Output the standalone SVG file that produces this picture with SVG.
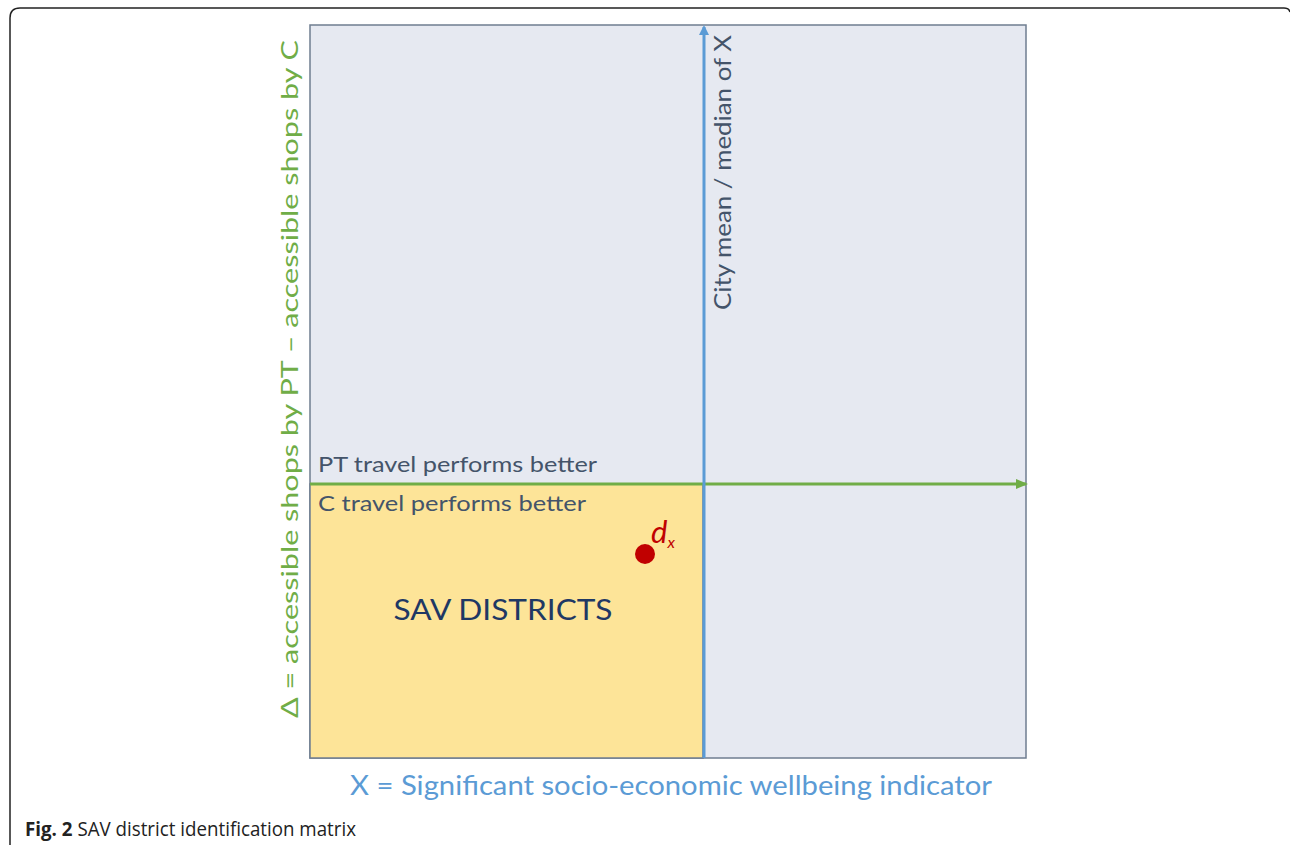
<svg xmlns="http://www.w3.org/2000/svg" width="1290" height="845" viewBox="0 0 1290 845">
  <style>
    .lbl { font-family: Lato, "Open Sans", sans-serif; }
    .slate { fill: #44546a; }
    .cap { font-family: "Open Sans", "Noto Sans", sans-serif; font-size: 20px; fill: #222; }
  </style>
  <defs>
    <marker id="arrBlue" markerWidth="10" markerHeight="10" refX="8" refY="5" orient="auto" markerUnits="userSpaceOnUse" viewBox="0 0 10 10">
      <path d="M0,0 L10,5 L0,10 z" fill="#5b9bd5"/>
    </marker>
    <marker id="arrGreen" markerWidth="12" markerHeight="10" refX="10" refY="5" orient="auto" markerUnits="userSpaceOnUse" viewBox="0 0 12 10">
      <path d="M0,0 L12,5 L0,10 z" fill="#70ad47"/>
    </marker>
  </defs>
  <rect width="1290" height="845" fill="#ffffff"/>

  <!-- figure frame -->
  <path d="M10,845 L10,18 Q10,8 20,8 L1284,8 Q1289,8 1290,12" fill="none" stroke="#222" stroke-width="1.5"/>

  <!-- matrix quadrants -->
  <g id="matrix">
    <rect x="310" y="25" width="716" height="733" fill="#e6e9f1" stroke="#6f7d90" stroke-width="1.5"/>
  </g>
  <g id="sav-districts">
    <rect x="310" y="484" width="393" height="274" fill="#fde498" stroke="#6f7d90" stroke-width="1.5"/>
    <text class="lbl" x="503" y="620" font-size="28" fill="#1f3864" text-anchor="middle" textLength="219" lengthAdjust="spacingAndGlyphs">SAV DISTRICTS</text>
  </g>

  <!-- axes -->
  <g id="connectors">
    <line x1="310" y1="484" x2="1026" y2="484" stroke="#70ad47" stroke-width="3" marker-end="url(#arrGreen)"/>
    <line x1="704" y1="758" x2="704" y2="27" stroke="#5b9bd5" stroke-width="3" marker-end="url(#arrBlue)"/>
  </g>

  <g id="median-label">
    <text class="lbl slate" transform="translate(731,310) rotate(-90)" font-size="24" textLength="275" lengthAdjust="spacingAndGlyphs">City mean / median of X</text>
  </g>
  <g id="pt-label">
    <text class="lbl slate" x="318" y="472" font-size="22" textLength="279" lengthAdjust="spacingAndGlyphs">PT travel performs better</text>
  </g>
  <g id="c-label">
    <text class="lbl slate" x="318" y="511" font-size="22" textLength="268" lengthAdjust="spacingAndGlyphs">C travel performs better</text>
  </g>

  <g id="district-dx">
    <circle cx="645" cy="554" r="10" fill="#c00000"/>
    <text class="lbl" x="651" y="543" font-size="31" font-style="italic" fill="#c00000">d<tspan font-size="16" dy="5">x</tspan></text>
  </g>

  <g id="y-axis-label">
    <text class="lbl" transform="translate(298,718) rotate(-90)" font-size="24" fill="#70ad47" textLength="678" lengthAdjust="spacingAndGlyphs">Δ = accessible shops by PT – accessible shops by C</text>
  </g>
  <g id="x-axis-label">
    <text class="lbl" x="350" y="795" font-size="27" fill="#5b9bd5" textLength="642" lengthAdjust="spacingAndGlyphs">X = Significant socio-economic wellbeing indicator</text>
  </g>

  <text class="cap" x="25" y="836" textLength="331" lengthAdjust="spacingAndGlyphs"><tspan font-weight="bold">Fig. 2</tspan> SAV district identification matrix</text>
</svg>
